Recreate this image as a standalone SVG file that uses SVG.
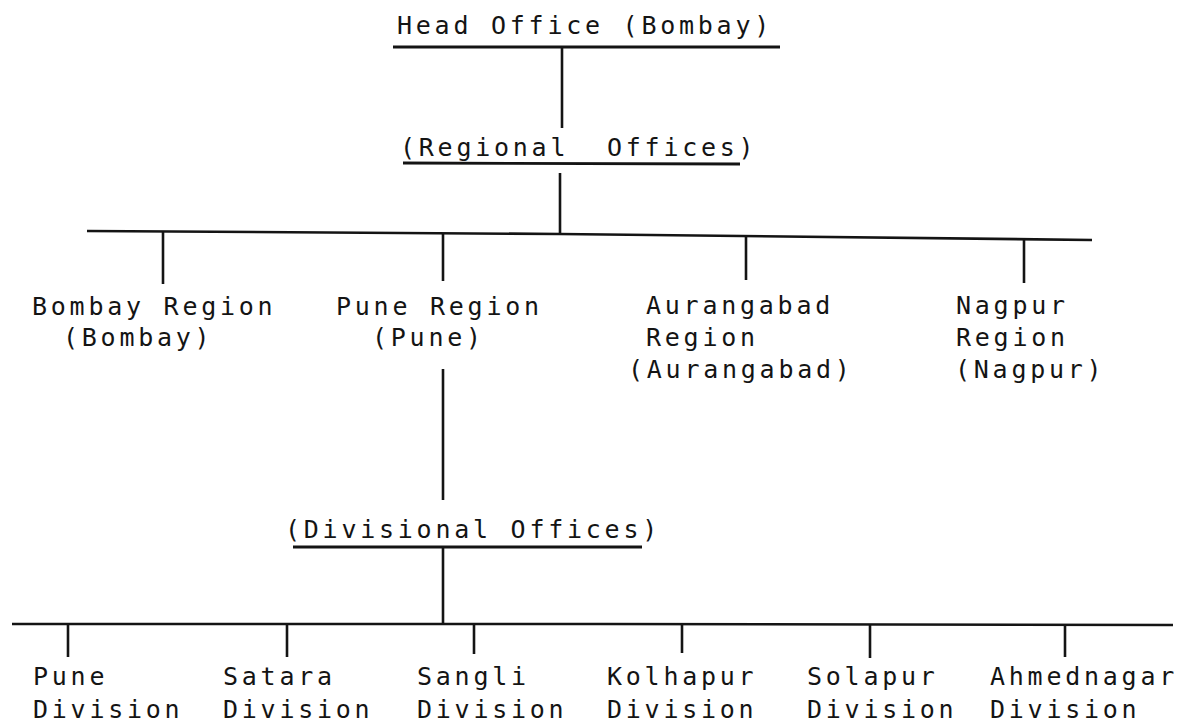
<svg xmlns="http://www.w3.org/2000/svg" width="1204" height="726" viewBox="0 0 1204 726">
<style>
  .t { font-family: "DejaVu Sans Mono", "Liberation Mono", monospace; font-size: 25px; letter-spacing: 3.75px; fill: #141414; }
  .ln { stroke: #141414; stroke-width: 2.6; fill: none; stroke-linecap: butt; }
  .ul { stroke: #141414; stroke-width: 2.8; fill: none; }
</style>
<rect width="1204" height="726" fill="#ffffff"/>

<g id="connectors">
  <line class="ln" x1="562" y1="47" x2="562" y2="128"/>
  <line class="ln" x1="560" y1="173" x2="560" y2="233"/>
  <polyline class="ln" points="87,231 560,234 1092,240"/>
  <line class="ln" x1="163" y1="231" x2="163" y2="284"/>
  <line class="ln" x1="443" y1="234" x2="443" y2="281"/>
  <line class="ln" x1="746" y1="236" x2="746" y2="280"/>
  <line class="ln" x1="1024" y1="239" x2="1024" y2="283"/>
  <line class="ln" x1="443" y1="369" x2="443" y2="500"/>
  <line class="ln" x1="443" y1="547" x2="443" y2="625"/>
  <polyline class="ln" points="12,624 600,624 1173,625"/>
  <line class="ln" x1="68" y1="624" x2="68" y2="657"/>
  <line class="ln" x1="287" y1="624" x2="287" y2="657"/>
  <line class="ln" x1="474" y1="624" x2="474" y2="654"/>
  <line class="ln" x1="682" y1="624" x2="682" y2="653"/>
  <line class="ln" x1="870" y1="625" x2="870" y2="658"/>
  <line class="ln" x1="1065" y1="625" x2="1065" y2="657"/>
</g>

<g id="head-office">
  <text class="t" x="397" y="34">Head Office (Bombay)</text>
  <line class="ul" x1="393" y1="47" x2="780" y2="47"/>
</g>

<g id="regional-offices">
  <text class="t" x="400" y="156">(Regional<tspan x="607">Offices)</tspan></text>
  <line class="ul" x1="403" y1="163" x2="740" y2="164"/>
</g>

<g id="bombay-region">
  <text class="t" x="32" y="315">Bombay Region</text>
  <text class="t" x="63" y="346">(Bombay)</text>
</g>

<g id="pune-region">
  <text class="t" x="336" y="315">Pune Region</text>
  <text class="t" x="372" y="346">(Pune)</text>
</g>

<g id="aurangabad-region">
  <text class="t" x="646" y="314">Aurangabad</text>
  <text class="t" x="646" y="346">Region</text>
  <text class="t" x="628" y="378">(Aurangabad)</text>
</g>

<g id="nagpur-region">
  <text class="t" x="956" y="314">Nagpur</text>
  <text class="t" x="956" y="346">Region</text>
  <text class="t" x="955" y="378">(Nagpur)</text>
</g>

<g id="divisional-offices">
  <text class="t" x="285" y="538">(Divisional Offices)</text>
  <line class="ul" x1="293" y1="547" x2="642" y2="547"/>
</g>

<g id="pune-division">
  <text class="t" x="33" y="685">Pune</text>
  <text class="t" x="33" y="718">Division</text>
</g>
<g id="satara-division">
  <text class="t" x="223" y="685">Satara</text>
  <text class="t" x="223" y="718">Division</text>
</g>
<g id="sangli-division">
  <text class="t" x="417" y="685">Sangli</text>
  <text class="t" x="417" y="718">Division</text>
</g>
<g id="kolhapur-division">
  <text class="t" x="607" y="685">Kolhapur</text>
  <text class="t" x="607" y="718">Division</text>
</g>
<g id="solapur-division">
  <text class="t" x="807" y="685">Solapur</text>
  <text class="t" x="807" y="718">Division</text>
</g>
<g id="ahmednagar-division">
  <text class="t" x="990" y="685">Ahmednagar</text>
  <text class="t" x="990" y="718">Division</text>
</g>
</svg>
